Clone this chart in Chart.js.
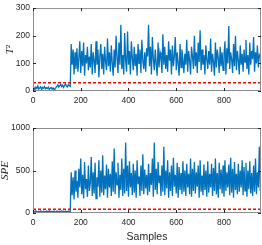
<!DOCTYPE html>
<html>
<head>
<meta charset="utf-8">
<script src="https://cdn.jsdelivr.net/npm/chart.js@4.4.1/dist/chart.umd.min.js"></script>
<style>
  html, body { margin: 0; padding: 0; background: #fff; }
  #wrap { position: relative; width: 262px; height: 245px; overflow: hidden; }
  .box { position: absolute; left: 0; width: 262px; }
  #boxT2 { top: 0; height: 105px; }
  #boxSPE { top: 105px; height: 140px; }
</style>
</head>
<body>
<div id="wrap">
  <div class="box" id="boxT2"><canvas id="t2Chart"></canvas></div>
  <div class="box" id="boxSPE"><canvas id="speChart"></canvas></div>
</div>
<script>
// ======================================
// DATA (one value every 4 samples)
// ======================================
const sampleStep = 4;
const xMax = 955;
const xTicks = [0, 200, 400, 600, 800];
const t2Ticks = [0, 100, 200, 300];
const speTicks = [0, 500, 1000];
const t2Limit = 30;
const speLimit = 45;

// samples 0..156 (normal operation)
const t2Normal = [8,12,5,14,9,18,7,11,15,6,13,10,16,8,12,9,14,6,10,13,
  7,11,5,9,12,17,22,14,19,24,16,21,13,20,25,18,15,23,19,17];
// samples 160..952 (after fault)
const t2Fault = [
  170,95,150,60,140,80,155,70,120,180,65,145,90,175,55,130,100,160,75,125,
  85,170,60,140,110,65,180,95,150,50,125,170,80,135,60,160,105,75,190,90,
  140,70,165,100,55,150,85,200,120,65,175,95,240,80,130,60,210,110,70,215,
  95,145,60,180,120,75,160,90,135,55,170,100,150,65,185,110,80,140,70,155,
  125,240,90,160,60,195,115,75,150,100,55,175,85,140,120,65,205,95,160,80,
  130,70,180,110,150,60,165,90,125,195,75,140,100,55,170,85,150,115,65,135,
  95,185,70,145,110,60,160,125,80,200,90,140,65,175,105,220,75,150,95,130,
  60,165,115,80,145,95,190,70,135,105,55,175,85,150,120,65,160,90,140,75,
  130,180,60,155,100,235,80,140,115,65,170,90,200,75,145,110,60,165,95,135,
  70,150,105,185,80,130,60,175,95,145,115,195,70,140,100,165,85,130,120];

const speNormal = [15,22,12,25,18,10,20,14,24,16,11,21,17,13,23,19,12,26,15,20,
  18,11,22,16,14,24,19,13,21,17,25,15,20,12,23,18,14,22,16,19];
const speFault = [
  480,210,420,160,500,250,380,180,520,300,640,220,450,170,600,280,400,190,560,260,
  350,660,200,480,230,590,170,420,310,620,190,500,240,680,210,440,280,570,180,520,
  300,460,200,610,250,760,220,480,330,590,180,450,270,640,200,520,230,830,260,560,
  190,610,300,470,210,580,240,500,180,620,340,430,200,560,260,690,220,510,290,450,
  210,580,250,470,330,640,190,830,270,520,220,600,350,440,200,560,250,780,210,500,
  290,620,180,480,260,560,200,650,310,450,230,590,180,540,270,470,220,610,250,500,
  200,580,300,460,220,640,190,520,260,600,230,480,310,560,180,620,250,440,210,570,
  270,500,190,610,240,460,300,580,200,530,260,640,220,470,180,590,280,510,230,560,
  190,620,260,480,300,570,210,650,240,520,180,600,270,460,220,580,250,500,300,620,
  210,540,260,590,190,500,280,610,230,470,200,560,250,640,220,480,300,780,260];

// ======================================
// HELPERS
// ======================================
const lineBlue = '#0072BD';
const limitRed = '#FF0000';
const axisColor = '#262626';
const frameColor = '#8c8c8c';
const sansFont = '"Liberation Sans", Arial, sans-serif';

function toPoints(values) {
    return values.map((v, i) => ({ x: i * sampleStep, y: v }));
}

// MATLAB style box with inward ticks
const boxPlugin = {
    id: 'matlabBox',
    afterDatasetsDraw(chart) {
        const { ctx, chartArea: a, scales } = chart;
        ctx.save();
        ctx.strokeStyle = frameColor;
        ctx.lineWidth = 1;
        ctx.strokeRect(a.left + 0.5, a.top + 0.5, a.right - a.left - 1, a.bottom - a.top - 1);
        ctx.strokeStyle = axisColor;
        const tl = 3;
        ctx.beginPath();
        scales.x.ticks.forEach(t => {
            const px = Math.round(scales.x.getPixelForValue(t.value)) + 0.5;
            ctx.moveTo(px, a.bottom); ctx.lineTo(px, a.bottom - tl);
            ctx.moveTo(px, a.top); ctx.lineTo(px, a.top + tl);
        });
        scales.y.ticks.forEach(t => {
            const py = Math.round(scales.y.getPixelForValue(t.value)) + 0.5;
            ctx.moveTo(a.left, py); ctx.lineTo(a.left + tl, py);
            ctx.moveTo(a.right, py); ctx.lineTo(a.right - tl, py);
        });
        ctx.stroke();
        ctx.restore();
    }
};

function makeOptions(yTicks, yTitle, yTitlePad, xTitle, xHeight, padTop) {
    return {
        responsive: true, maintainAspectRatio: false, animation: false,
        layout: { padding: { left: 0, right: 1, top: padTop, bottom: 0 } },
        plugins: { legend: { display: false }, tooltip: { enabled: false } },
        scales: {
            x: {
                type: 'linear', min: 0, max: xMax,
                grid: { display: false, drawTicks: false },
                border: { display: false },
                afterBuildTicks: s => { s.ticks = xTicks.map(v => ({ value: v })); },
                afterFit: s => { s.height = xHeight; },
                ticks: { padding: 5, color: axisColor, maxRotation: 0,
                    callback: v => String(v),
                    font: { family: sansFont, size: 8.5 } },
                title: { display: !!xTitle, text: xTitle, color: axisColor,
                    padding: { top: 0, bottom: 2 },
                    font: { family: sansFont, size: 10.5 } }
            },
            y: {
                type: 'linear', min: yTicks[0], max: yTicks[yTicks.length - 1],
                grid: { display: false, drawTicks: false },
                border: { display: false },
                afterBuildTicks: s => { s.ticks = yTicks.map(v => ({ value: v })); },
                afterFit: s => { s.width = 33; },
                ticks: { padding: 3, color: axisColor,
                    callback: v => String(v),
                    font: { family: sansFont, size: 8.5 } },
                title: { display: true, text: yTitle, color: axisColor,
                    padding: { top: yTitlePad, bottom: 0 },
                    font: { family: '"Liberation Serif", "DejaVu Serif", serif', size: 11, style: 'italic', lineHeight: 1 } }
            }
        }
    };
}

function makeData(normal, fault, limit) {
    const series = toPoints(normal.concat(fault));
    return {
        datasets: [
            { data: series, borderColor: lineBlue, borderWidth: 1.3, pointRadius: 0, tension: 0, order: 2 },
            { data: [{ x: 0, y: limit }, { x: xMax, y: limit }], borderColor: limitRed, borderWidth: 1.5,
              borderDash: [3, 2], pointRadius: 0, order: 1 }
        ]
    };
}

document.addEventListener('DOMContentLoaded', function() {
    new Chart(document.getElementById('t2Chart'), {
        type: 'line', data: makeData(t2Normal, t2Fault, t2Limit),
        options: makeOptions(t2Ticks, 'T²', 5, '', 14, 6), plugins: [boxPlugin]
    });
    new Chart(document.getElementById('speChart'), {
        type: 'line', data: makeData(speNormal, speFault, speLimit),
        options: makeOptions(speTicks, 'SPE', 0, 'Samples', 32, 23), plugins: [boxPlugin]
    });
});
</script>
</body>
</html>
